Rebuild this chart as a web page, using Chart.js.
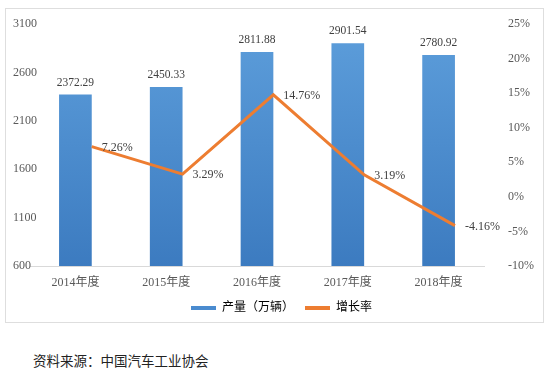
<!DOCTYPE html>
<html>
<head>
<meta charset="utf-8">
<script src="https://cdn.jsdelivr.net/npm/chart.js@4.4.1/dist/chart.umd.min.js"></script>
<style>
  html, body { margin: 0; padding: 0; background: #fff; }
  #wrap { position: relative; width: 550px; height: 375px; }
  #frame { position: absolute; left: 5px; top: 8px; width: 537px; height: 313px; border: 1px solid #dedede; }
  #cv { position: absolute; left: 0; top: 0; }
  #src { position: absolute; left: 33px; top: 350px; font: 13.5px "Noto Sans CJK SC", sans-serif; color: #222; }
</style>
</head>
<body>
<div id="wrap">
  <div id="frame"></div>
  <canvas id="cv" width="550" height="330"></canvas>
  <div id="src">资料来源：中国汽车工业协会</div>
</div>
<script>
const years = ['2014年度', '2015年度', '2016年度', '2017年度', '2018年度'];
const output = [2372.29, 2450.33, 2811.88, 2901.54, 2780.92];   // 产量（万辆）
const growth = [7.26, 3.29, 14.76, 3.19, -4.16];                // 增长率 %
const leftTicks = [600, 1100, 1600, 2100, 2600, 3100];
const rightTicks = [-10, -5, 0, 5, 10, 15, 20, 25];

const serif = '"Liberation Serif", "Noto Sans CJK SC", serif';
const tickColor = '#595959';
const BAR_FRAC = 0.36;

// excel puts the line points at the right edge of the bars
const linePoints = growth.map((v, i) => ({ x: i + BAR_FRAC / 2, y: v }));

const labelPlugin = {
  id: 'valueLabels',
  afterDatasetsDraw(chart) {
    const ctx = chart.ctx;
    ctx.save();
    ctx.fillStyle = '#404040';
    ctx.font = '11.5px ' + serif;
    const bars = chart.getDatasetMeta(0).data;
    ctx.textAlign = 'center';
    ctx.textBaseline = 'bottom';
    bars.forEach((b, i) => {
      ctx.fillText(output[i].toFixed(2), b.x, b.y - 6);
    });
    const pts = chart.getDatasetMeta(1).data;
    ctx.font = '12px ' + serif;
    ctx.textAlign = 'left';
    ctx.textBaseline = 'middle';
    pts.forEach((p, i) => {
      ctx.fillText(growth[i].toFixed(2) + '%', p.x + 10, p.y + 1);
    });
    ctx.restore();
  }
};

const chart = new Chart(document.getElementById('cv'), {
  type: 'bar',
  data: {
    labels: years,
    datasets: [{
      label: '产量（万辆）',
      data: output,
      xAxisID: 'x',
      yAxisID: 'y',
      order: 2,
      grouped: false,
      barPercentage: BAR_FRAC,
      categoryPercentage: 1,
      backgroundColor: function(c) {
        const a = c.chart.chartArea;
        if (!a) return '#5B9BD5';
        const g = c.chart.ctx.createLinearGradient(0, a.top, 0, a.bottom);
        g.addColorStop(0, '#5d9edb');
        g.addColorStop(1, '#3c7bc0');
        return g;
      }
    }, {
      type: 'line',
      label: '增长率',
      data: linePoints,
      xAxisID: 'x2',
      yAxisID: 'y1',
      order: 1,
      borderColor: '#ED7D31',
      backgroundColor: '#ED7D31',
      borderWidth: 3,
      pointRadius: 0,
      tension: 0
    }]
  },
  options: {
    responsive: false,
    animation: false,
    layout: { padding: { left: 13, right: 0, top: 24, bottom: 6 } },
    scales: {
      x: {
        offset: true,
        grid: { display: false, drawTicks: false },
        border: { color: '#d9d9d9' },
        ticks: { color: tickColor, font: { family: serif, size: 12 }, padding: 10 },
        afterFit(s) { s.height = 25; }
      },
      x2: {
        type: 'linear',
        position: 'bottom',
        offset: false,
        min: -0.5,
        max: years.length - 0.5,
        grid: { display: false, drawTicks: false, offset: false },
        border: { display: false },
        ticks: { display: false },
        afterFit(s) { s.height = 0; s.paddingLeft = 0; s.paddingRight = 0; }
      },
      y: {
        position: 'left',
        min: leftTicks[0],
        max: leftTicks[leftTicks.length - 1],
        grid: { display: false, drawTicks: false },
        border: { display: false },
        ticks: {
          stepSize: 500,
          mirror: true,
          padding: -17,
          color: tickColor,
          font: { family: serif, size: 12 },
          callback: v => String(v)
        },
        afterFit(s) { s.width = 17; s.paddingTop = 6; s.paddingBottom = 6; }
      },
      y1: {
        position: 'right',
        min: rightTicks[0],
        max: rightTicks[rightTicks.length - 1],
        grid: { display: false, drawTicks: false },
        border: { display: false },
        ticks: {
          stepSize: 5,
          padding: 24,
          color: tickColor,
          font: { family: serif, size: 12 },
          callback: v => v + '%'
        },
        afterFit(s) { s.width = 66; s.paddingTop = 6; s.paddingBottom = 6; }
      }
    },
    plugins: {
      tooltip: { enabled: false },
      legend: {
        position: 'bottom',
        labels: {
          color: tickColor,
          font: { family: serif, size: 12 },
          boxWidth: 25,
          boxHeight: 4,
          padding: 11,
          generateLabels: () => [
            { text: '产量（万辆）', fillStyle: '#4a8bcf', strokeStyle: '#4a8bcf', lineWidth: 0, datasetIndex: 0 },
            { text: '增长率', fillStyle: '#ED7D31', strokeStyle: '#ED7D31', lineWidth: 0, datasetIndex: 1 }
          ]
        }
      }
    }
  },
  plugins: [labelPlugin]
});
</script>
</body>
</html>
